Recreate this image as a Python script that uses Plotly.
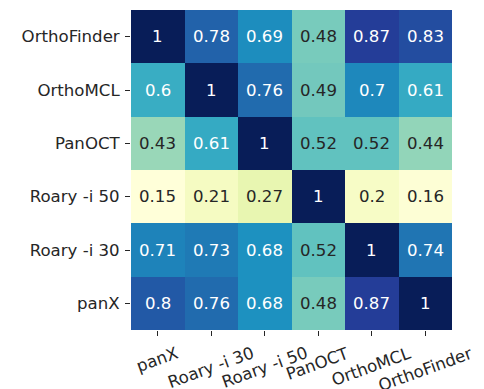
import plotly.graph_objects as go

cols = ["panX", "Roary -i 30", "Roary -i 50", "PanOCT", "OrthoMCL", "OrthoFinder"]
rows = ["OrthoFinder", "OrthoMCL", "PanOCT", "Roary -i 50", "Roary -i 30", "panX"]
r_orthofinder = [1, 0.78, 0.69, 0.48, 0.87, 0.83]
r_orthomcl = [0.6, 1, 0.76, 0.49, 0.7, 0.61]
r_panoct = [0.43, 0.61, 1, 0.52, 0.52, 0.44]
r_roary50 = [0.15, 0.21, 0.27, 1, 0.2, 0.16]
r_roary30 = [0.71, 0.73, 0.68, 0.52, 1, 0.74]
r_panx = [0.8, 0.76, 0.68, 0.48, 0.87, 1]
z = [r_orthofinder, r_orthomcl, r_panoct, r_roary50, r_roary30, r_panx]

ylgnbu = ["#ffffd9", "#edf8b1", "#c7e9b4", "#7fcdbb", "#41b6c4",
          "#1d91c0", "#225ea8", "#253494", "#081d58"]
cscale = [[i / 8, c] for i, c in enumerate(ylgnbu)]

zmin = min(min(r) for r in z)
zmax = max(max(r) for r in z)


def hex2rgb(h):
    return [int(h[i:i + 2], 16) / 255 for i in (1, 3, 5)]


def cmap(v):
    t = (v - zmin) / (zmax - zmin)
    t = max(0.0, min(1.0, t))
    k = min(int(t * 8), 7)
    f = t * 8 - k
    a, b = hex2rgb(ylgnbu[k]), hex2rgb(ylgnbu[k + 1])
    return [a[i] + (b[i] - a[i]) * f for i in range(3)]


def lum(rgb):
    lin = [c / 12.92 if c <= 0.03928 else ((c + 0.055) / 1.055) ** 2.4 for c in rgb]
    return 0.2126 * lin[0] + 0.7152 * lin[1] + 0.0722 * lin[2]


fig = go.Figure(go.Heatmap(
    z=z, x=cols, y=rows, colorscale=cscale, zmin=zmin, zmax=zmax,
    showscale=False, hoverinfo="skip"))

ann = []
for i, rname in enumerate(rows):
    for j, cname in enumerate(cols):
        v = z[i][j]
        col = "#262626" if lum(cmap(v)) > 0.408 else "white"
        ann.append(dict(x=cname, y=rname, xref="x", yref="y", text="{:.2g}".format(v),
                        showarrow=False, font=dict(size=16.6, color=col)))
for cname in cols:
    ann.append(dict(x=cname, y=0, xref="x", yref="paper", yshift=-11, text=cname,
                    showarrow=False, textangle=-20, xanchor="center", yanchor="top",
                    font=dict(size=16.6, color="#262626")))

fig.update_layout(
    width=484, height=389,
    margin=dict(l=131, r=32, t=10, b=59, autoexpand=False),
    paper_bgcolor="white", plot_bgcolor="white",
    font=dict(family="DejaVu Sans", size=16.6, color="#262626"),
    annotations=ann,
    xaxis=dict(showticklabels=False, ticks="outside", ticklen=5, tickwidth=1.2,
               tickcolor="#262626", showgrid=False, zeroline=False,
               range=[-0.5, 5.5], domain=[0, 1], automargin=False),
    yaxis=dict(autorange="reversed", ticks="outside", ticklen=5, tickwidth=1.2,
               tickcolor="#262626", showgrid=False, zeroline=False, automargin=False,
               ticklabelstandoff=2,
               tickfont=dict(size=16.6, color="#262626")),
)

fig.write_html("out.html", config={"displayModeBar": False},
               post_script="document.body.style.margin='0px';")
